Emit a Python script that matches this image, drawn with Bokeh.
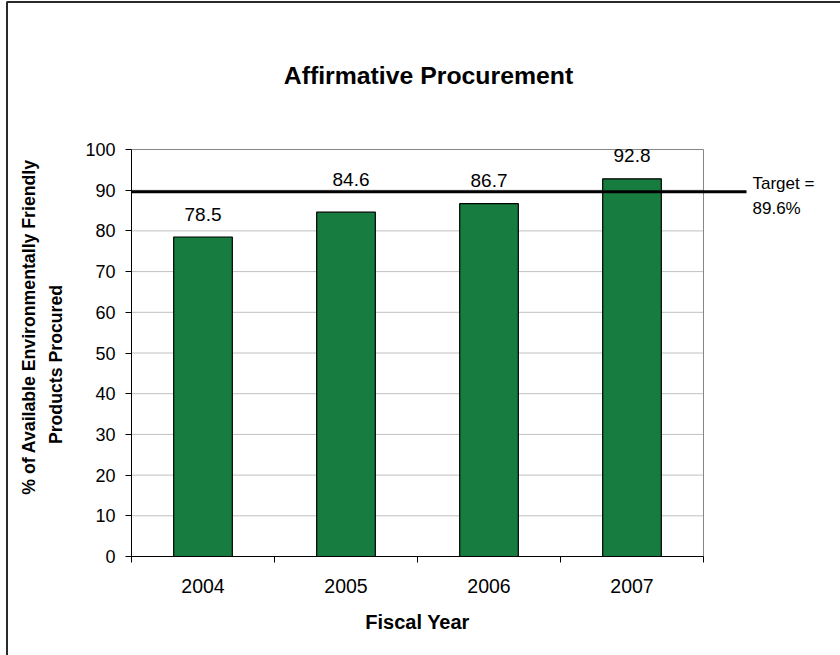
import math
from bokeh.plotting import figure
from bokeh.models import (ColumnDataSource, Range1d, LinearAxis, FixedTicker,
                          Label, BoxAnnotation)
from bokeh.core.properties import value
from bokeh.embed import file_html
from bokeh.resources import INLINE

# ---------------- data ----------------
years = ["2004", "2005", "2006", "2007"]
procured = [78.5, 84.6, 86.7, 92.8]
target = 89.6
y_ticks = [0, 10, 20, 30, 40, 50, 60, 70, 80, 90, 100]
title_text = "Affirmative Procurement"
x_title = "Fiscal Year"
y_title_lines = ["% of Available Environmentally Friendly", "Products Procured"]

# ---------------- style / layout (pixels) ----------------
FONT = "Liberation Sans"
BAR_GREEN = "#167C3F"
GRID = "#C0C0C0"
FRAME_EDGE = "#868686"
W, H = 840, 655
PLOT_LEFT, PLOT_RIGHT, PLOT_TOP, PLOT_BOTTOM = 131, 703, 149, 556

n = len(years)
idx = list(range(n))
x_lo, x_hi = -0.5, n - 0.5
y_max = max(y_ticks)
px_x = (PLOT_RIGHT - PLOT_LEFT) / n
px_y = (PLOT_BOTTOM - PLOT_TOP) / y_max

p = figure(width=W, height=H,
           x_range=Range1d(x_lo - PLOT_LEFT / px_x, x_lo + (W - PLOT_LEFT) / px_x),
           y_range=Range1d(-(H - PLOT_BOTTOM) / px_y, PLOT_BOTTOM / px_y),
           output_backend="svg", toolbar_location=None, title=None,
           x_axis_type=None, y_axis_type=None,
           min_border=0, min_border_left=0, min_border_right=0,
           min_border_top=0, min_border_bottom=0)
p.outline_line_color = None
p.background_fill_color = "white"
p.border_fill_color = "white"

# grid lines (inside plot area only)
grid_vals = [t for t in y_ticks if 0 < t < y_max]
p.segment(x0=[x_lo] * len(grid_vals), x1=[x_hi] * len(grid_vals),
          y0=grid_vals, y1=grid_vals, line_color=GRID, line_width=1)
# plot area border (top and right)
p.segment(x0=[x_lo, x_hi], x1=[x_hi, x_hi],
          y0=[y_max, 0], y1=[y_max, y_max],
          line_color=FRAME_EDGE, line_width=1)

# bars
src = ColumnDataSource(dict(
    x=idx, top=procured,
    label=[f"{v:.1f}" for v in procured],
    dx=[0, 5, 0, 0],
    dy=[-23, -33, -23, -23],
))
p.vbar(x="x", top="top", bottom=0, width=0.41, source=src,
       fill_color=BAR_GREEN, line_color="black", line_width=1.2)

# target line (runs past the plot area toward its label)
p.segment(x0=[x_lo], x1=[x_hi + 43 / px_x], y0=[target], y1=[target],
          line_color="black", line_width=3)

# value labels
p.text(x="x", y="top", text="label", x_offset="dx", y_offset="dy", source=src,
       text_align="center", text_baseline="middle",
       text_font=value(FONT), text_font_size="19px", text_color="black")

# axes, pinned to the plot-area edges
yaxis = LinearAxis(ticker=FixedTicker(ticks=y_ticks), bounds=(0, y_max),
                   fixed_location=x_lo,
                   major_tick_out=6, major_tick_in=0,
                   minor_tick_out=0, minor_tick_in=0,
                   axis_line_color="black", major_tick_line_color="black",
                   major_label_text_font=FONT, major_label_text_font_size="18px",
                   major_label_text_color="black", major_label_standoff=10)
p.add_layout(yaxis, "left")

xaxis = LinearAxis(ticker=FixedTicker(ticks=idx, minor_ticks=[i - 0.5 for i in range(n + 1)]),
                   bounds=(x_lo, x_hi), fixed_location=0,
                   major_tick_out=0, major_tick_in=0,
                   minor_tick_out=6, minor_tick_in=0,
                   axis_line_color="black", minor_tick_line_color="black",
                   major_label_overrides={i: y for i, y in enumerate(years)},
                   major_label_text_font=FONT, major_label_text_font_size="19.5px",
                   major_label_text_color="black", major_label_standoff=16)
p.add_layout(xaxis, "below")

def lab(text, x, y, size, bold=False, align="left", baseline="middle", angle=0.0):
    p.add_layout(Label(x=x, y=H - y, x_units="screen", y_units="screen", text=text,
                       angle=angle, text_align=align, text_baseline=baseline,
                       text_font=FONT, text_font_size=size,
                       text_font_style="bold" if bold else "normal",
                       text_color="black"))

# chart title
lab(title_text, 428, 75, "24.8px", bold=True, align="center")
# x-axis title
lab(x_title, (PLOT_LEFT + PLOT_RIGHT) / 2, 621, "20px", bold=True, align="center")
# y-axis title (two lines, rotated)
lab(y_title_lines[0], 28, 326.5, "17.7px", bold=True, align="center",
    baseline="middle", angle=math.pi / 2)
lab(y_title_lines[1], 55, 364, "17.7px", bold=True, align="center",
    baseline="middle", angle=math.pi / 2)
# target label
lab("Target =", 752, 183, "17px")
lab(f"{target}%", 752, 208, "17px")

# chart-area border (continues beyond the picture on the right and bottom)
p.add_layout(BoxAnnotation(left=6.5, right=W + 50, top=H - 1.5, bottom=-50,
                           left_units="screen", right_units="screen",
                           top_units="screen", bottom_units="screen",
                           fill_alpha=0, line_alpha=1.0,
                           line_color="#2a2a2a", line_width=2))

open("out.html", "w").write(file_html(p, INLINE))
